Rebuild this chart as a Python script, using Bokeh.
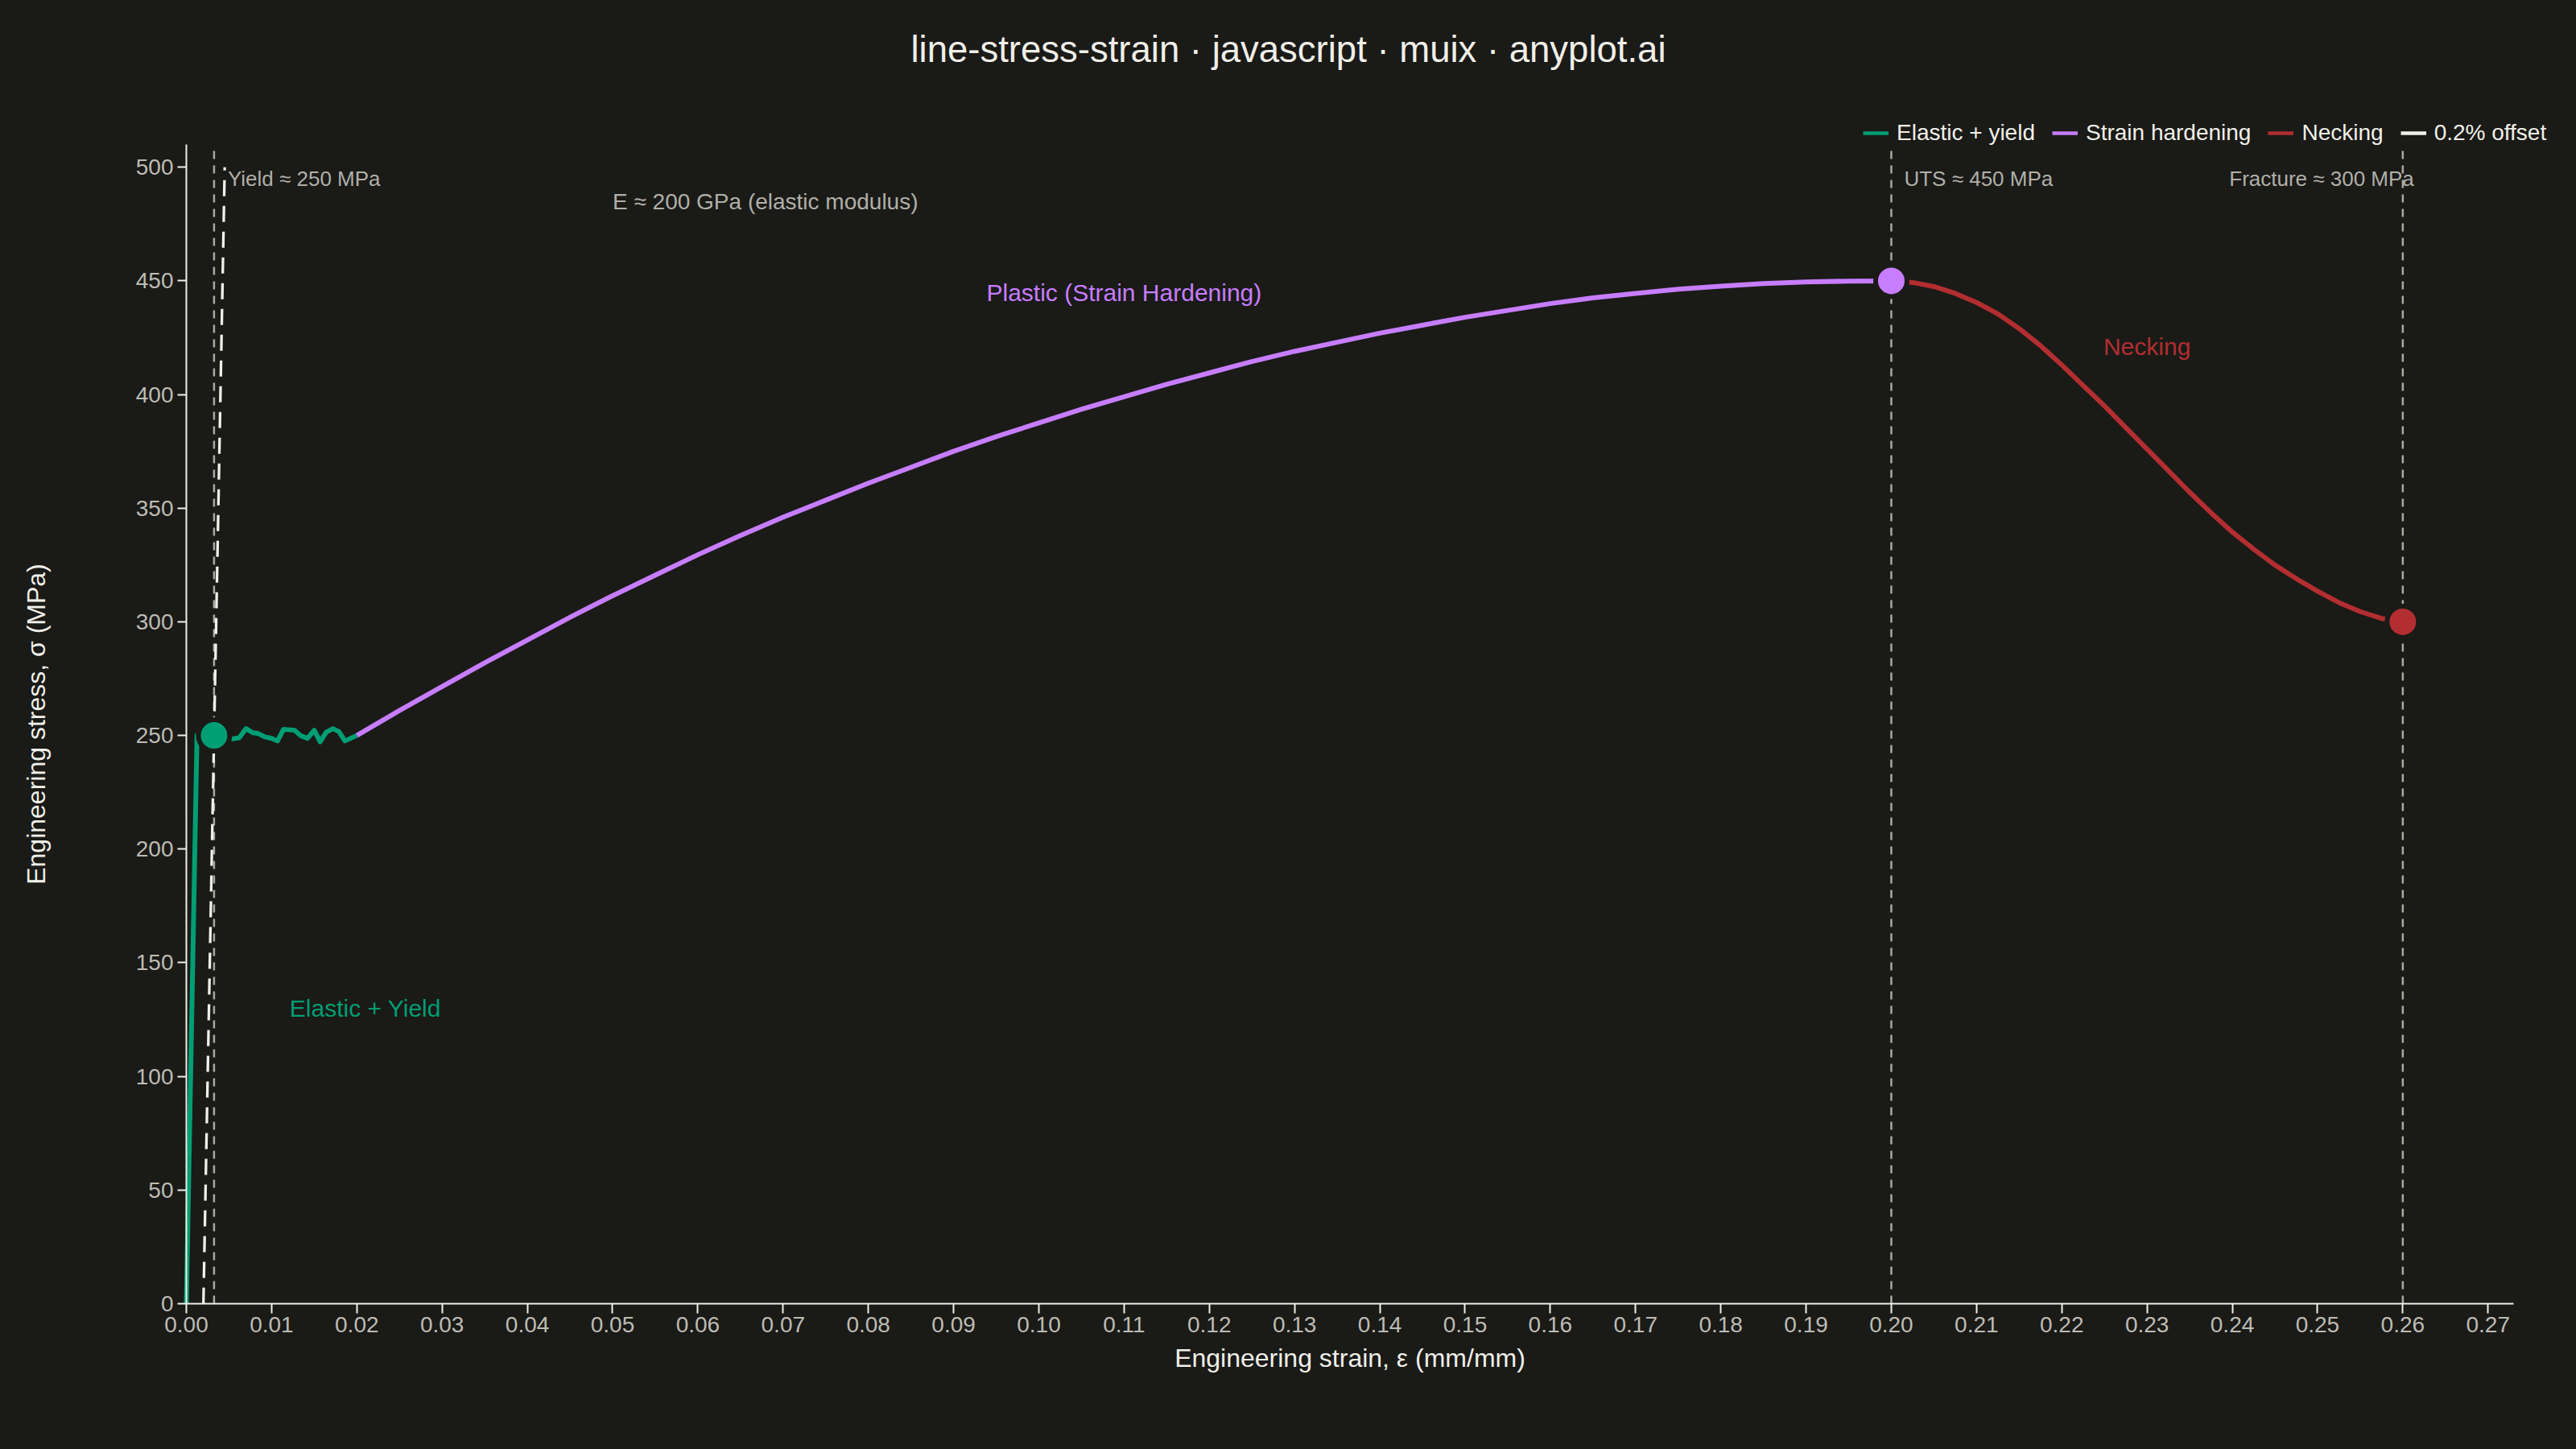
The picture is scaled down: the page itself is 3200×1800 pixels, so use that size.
import math
from bokeh.plotting import figure
from bokeh.models import (Range1d, FixedTicker, PrintfTickFormatter, Label,
                          Legend, LegendItem, ColumnDataSource)
from bokeh.embed import file_html
from bokeh.resources import INLINE

# ---------------- data ----------------
elastic_strain = [0.0, 0.00125, 0.00325, 0.0054, 0.0062, 0.0070, 0.0078, 0.0084, 0.0092,
                  0.0100, 0.0107, 0.0114, 0.0127, 0.0134, 0.0142, 0.0150, 0.0157, 0.0164,
                  0.0172, 0.0179, 0.0186, 0.0200]
elastic_stress = [0, 250, 250, 248.5, 249.0, 253.0, 251.2, 250.9, 249.4,
                  248.7, 247.6, 252.7, 252.3, 249.9, 248.7, 252.3, 247.2, 251.4,
                  253.0, 251.7, 247.6, 250.0]

hard_strain = [0.020, 0.025, 0.030, 0.035, 0.040, 0.045, 0.050, 0.055, 0.060, 0.065,
               0.070, 0.075, 0.080, 0.085, 0.090, 0.095, 0.100, 0.105, 0.110, 0.115,
               0.120, 0.125, 0.130, 0.135, 0.140, 0.145, 0.150, 0.155, 0.160, 0.165,
               0.170, 0.175, 0.180, 0.185, 0.190, 0.195, 0.200]
hard_stress = [250, 261, 271.5, 282, 292, 302, 311.5, 320.5, 329.5, 338,
               346, 353.5, 361, 368, 375, 381.5, 387.5, 393.5, 399, 404.5,
               409.5, 414.5, 419, 423, 427, 430.5, 434, 437, 440, 442.5,
               444.5, 446.3, 447.7, 448.8, 449.5, 449.9, 450]

neck_strain = [0.20, 0.2025, 0.205, 0.2075, 0.21, 0.2125, 0.215, 0.2175, 0.22, 0.2225,
               0.225, 0.2275, 0.23, 0.2325, 0.235, 0.2375, 0.24, 0.2425, 0.245, 0.2475,
               0.25, 0.2525, 0.255, 0.2575, 0.26]
neck_stress = [450, 449.3, 447.5, 444.5, 440.5, 435.5, 429, 421.5, 413, 404,
               395, 385.5, 376, 366.5, 357, 348, 339.5, 332, 325, 319,
               313.5, 308.5, 304.5, 301.5, 300]

offset_strain = [0.002, 0.0045]
offset_stress = [0, 500]

key_strain = [0.00325, 0.20, 0.26]
key_stress = [250, 450, 300]
key_names = ["Yield", "UTS", "Fracture"]

x_ticks = [0.00, 0.01, 0.02, 0.03, 0.04, 0.05, 0.06, 0.07, 0.08, 0.09, 0.10, 0.11, 0.12, 0.13,
           0.14, 0.15, 0.16, 0.17, 0.18, 0.19, 0.20, 0.21, 0.22, 0.23, 0.24, 0.25, 0.26, 0.27]
y_ticks = [0, 50, 100, 150, 200, 250, 300, 350, 400, 450, 500]

series_names = ["Elastic + yield", "Strain hardening", "Necking", "0.2% offset"]

# axis extents (the frame covers the whole canvas; axes are drawn at fixed locations)
X_MAX = 0.273
Y_MAX = 510

# ---------------- style ----------------
BG = "#1A1A17"
FG = "#F0EFE8"
TICK = "#BDBCB4"
MUTED = "#B0AFA8"
REF = "#A9A9A2"
GREEN = "#009E73"
PURPLE = "#C77DFF"
RED = "#B22E30"
FONT = "Liberation Sans"

W, H = 3200, 1800
# page pixels: y axis at x=231, x axis at y=1619, axis top at 179, axis right at 3122
AX_LEFT, AX_BOTTOM, AX_TOP, AX_RIGHT = 231, 1619, 179, 3122
x_per_px = X_MAX / (AX_RIGHT - AX_LEFT)
y_per_px = Y_MAX / (AX_BOTTOM - AX_TOP)
p = figure(width=W, height=H, output_backend="svg", toolbar_location=None,
           x_range=Range1d(-AX_LEFT * x_per_px, (W - AX_LEFT) * x_per_px),
           y_range=Range1d(-(H - AX_BOTTOM) * y_per_px, AX_BOTTOM * y_per_px),
           background_fill_color=BG, border_fill_color=BG,
           min_border_left=0, min_border_right=0, min_border_top=0,
           min_border_bottom=0)
p.title.text = ""
p.outline_line_color = None
p.grid.visible = False

for ax in (p.xaxis[0], p.yaxis[0]):
    ax.axis_line_color = FG
    ax.axis_line_width = 2
    ax.major_tick_line_color = FG
    ax.major_tick_line_width = 2
    ax.major_tick_in = 0
    ax.minor_tick_line_color = None
    ax.major_label_text_font = FONT
    ax.major_label_text_font_size = "28px"
    ax.major_label_text_color = TICK
    ax.fixed_location = 0

p.xaxis[0].bounds = (0, X_MAX)
p.xaxis[0].ticker = FixedTicker(ticks=x_ticks)
p.xaxis[0].formatter = PrintfTickFormatter(format="%.2f")
p.xaxis[0].major_tick_out = 12
p.xaxis[0].major_label_standoff = 4

p.yaxis[0].bounds = (0, Y_MAX)
p.yaxis[0].ticker = FixedTicker(ticks=y_ticks)
p.yaxis[0].major_tick_out = 11
p.yaxis[0].major_label_standoff = 5

# reference vertical lines (yield, UTS, fracture)
ref_src = ColumnDataSource(dict(x=key_strain, y0=[0] * len(key_strain),
                                y1=[Y_MAX] * len(key_strain)))
p.segment(x0="x", y0="y0", x1="x", y1="y1", source=ref_src, line_color=REF,
          line_width=2.5, line_dash="10 8")

# 0.2% offset line
p.line(offset_strain, offset_stress, line_color=FG, line_width=3.3, line_dash="20 12")

# curves
p.line(elastic_strain, elastic_stress, line_color=GREEN, line_width=6, line_join="round")
p.line(hard_strain, hard_stress, line_color=PURPLE, line_width=6, line_join="round")
p.line(neck_strain, neck_stress, line_color=RED, line_width=6, line_join="round")

# key points
src = ColumnDataSource(dict(x=key_strain, y=key_stress, c=[GREEN, PURPLE, RED]))
p.scatter("x", "y", source=src, size=39, fill_color="c", line_color=BG, line_width=6)

# legend swatches: single-point lines (nothing drawn in the plot, solid swatch in legend)
sw = []
for col in (GREEN, PURPLE, RED, FG):
    sw.append(p.line(x=[offset_strain[0]], y=[offset_stress[0]], line_color=col,
                     line_width=4.5))
legend = Legend(items=[LegendItem(label=nm, renderers=[r]) for nm, r in zip(series_names, sw)],
                orientation="horizontal", location=(2314, 1438 + (H - AX_BOTTOM)),
                background_fill_alpha=0, border_line_color=None,
                label_text_color=FG, label_text_font=FONT, label_text_font_size="28px",
                glyph_width=32, glyph_height=20, label_standoff=10, spacing=21,
                padding=0, margin=0)
p.add_layout(legend, "center")

# annotations
def lab(**kw):
    base = dict(text_font=FONT, text_baseline="middle")
    base.update(kw)
    p.add_layout(Label(**base))

lab(x=0.00325, y=495, x_offset=17, text="Yield ≈ 250 MPa", text_font_size="26px",
    text_color=MUTED, text_align="left")
lab(x=0.20, y=495, x_offset=16, text="UTS ≈ 450 MPa", text_font_size="26px",
    text_color=MUTED, text_align="left")
lab(x=0.26, y=495, x_offset=14, text="Fracture ≈ 300 MPa", text_font_size="26px",
    text_color=MUTED, text_align="right")
lab(x=0.05, y=485, text="E ≈ 200 GPa (elastic modulus)", text_font_size="28px",
    text_color=MUTED, text_align="left")
lab(x=0.11, y=445, text="Plastic (Strain Hardening)", text_font_size="30px",
    text_color=PURPLE, text_align="center")
lab(x=0.23, y=421, text="Necking", text_font_size="30px", text_color=RED,
    text_align="center")
lab(x=0.021, y=130, text="Elastic + Yield", text_font_size="30px", text_color=GREEN,
    text_align="center")

# axis titles, centred on the drawn axis extents
lab(x=(AX_LEFT + AX_RIGHT) / 2, y=H - 1686, x_units="screen", y_units="screen",
    text="Engineering strain, ε (mm/mm)", text_font_size="32px", text_color=FG,
    text_align="center")
lab(x=44, y=H - 899, x_units="screen", y_units="screen", angle=math.pi / 2,
    text="Engineering stress, σ (MPa)", text_font_size="32px", text_color=FG,
    text_align="center")

# chart title
lab(x=1600, y=H - 61, x_units="screen", y_units="screen",
    text="line-stress-strain · javascript · muix · anyplot.ai", text_font_size="45.5px",
    text_color=FG, text_align="center")

html = file_html(p, INLINE)
html = html.replace("<head>", "<head><style>body{background:#1A1A17;}</style>", 1)
open("out.html", "w").write(html)
